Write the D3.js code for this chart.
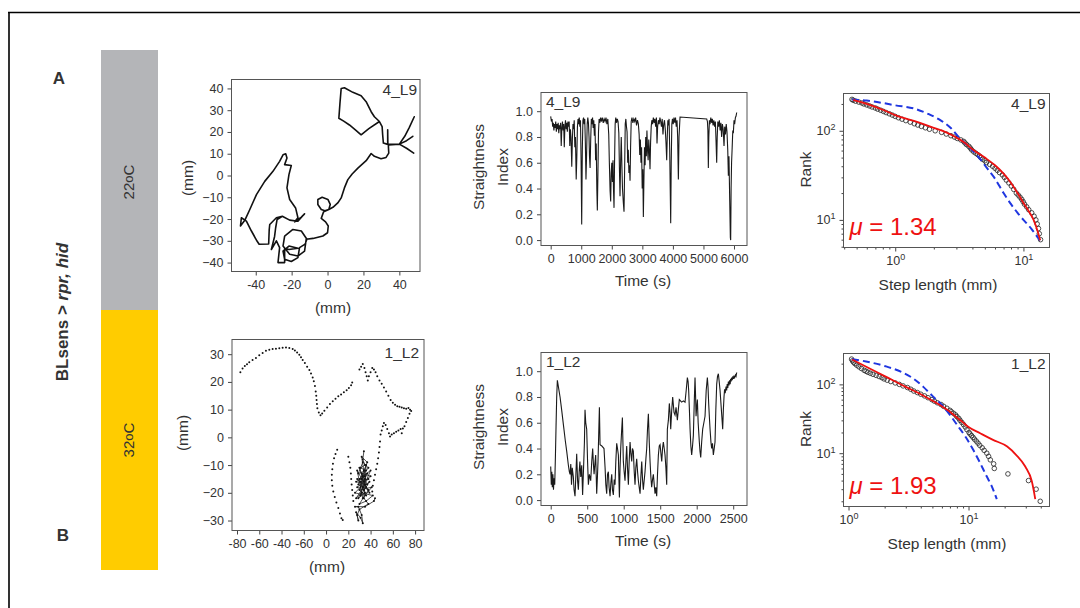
<!DOCTYPE html>
<html>
<head>
<meta charset="utf-8">
<script src="https://cdn.jsdelivr.net/npm/d3@7"></script>
<style>
body { margin: 0; background: #fff; }
text { font-family: "Liberation Sans", Arial, sans-serif; fill: #333; }
</style>
</head>
<body>
<div id="fig"></div>
<script>
// ---- data ----
const trajTicksA = [-40, -20, 0, 20, 40];
const trajYTicksA = [-40, -30, -20, -10, 0, 10, 20, 30, 40];
const trajTicksB = [-80, -60, -40, -20, 0, 20, 40, 60, 80];
const trajTickLabelsB = ["-80", "-60", "-40", "-60", "0", "20", "40", "60", "80"];
const trajYTicksB = [-30, -20, -10, 0, 10, 20, 30];

// 4_L9 trajectory (mm), continuous track
const trajA = [
  [28.9,24.8],[23,21.5],[18.7,18.7],[15.5,21],[12.2,23.2],[9,25],[6.3,26.3],[6.9,33],[7.6,40],[9.4,40.3],
  [14.1,38.2],[18.7,36.6],[21.5,33.9],[24.3,29.3],[26.1,27],[28.9,24.8],[30.4,22.5],[30.7,18.7],[31.1,14.9],
  [33.5,14.3],[33.5,21],[33.6,14.3],[40,14.4],[44,12.5],[48,10.3],[44,12.5],[40,14.4],[44,16],[47.5,18],
  [44,16],[40,14.4],[43,18],[45.5,22],[48.3,27],[45.5,22],[43,18],[40,14.4],[34,14],[33.9,13.3],[34.1,10.3],
  [32.6,8.3],[29.8,7.7],[26.1,8.8],[24.3,10.1],[21.5,6.8],[16.9,3.4],[13.7,0.7],[11.3,-1.9],[9.4,-5.7],
  [7.6,-10.3],[5.7,-12.6],[3,-14.6],[0.7,-15.6],[-1.5,-16.2],[-3.5,-15.6],[-5.4,-13.3],[-5.4,-11],[-3,-10],
  [0.2,-11],[1.5,-13.3],[0.7,-15.6],[-1.5,-16.4],[-2.2,-16.7],[-3.5,-19.7],[-1.1,-21.3],[0.4,-23.2],[0,-26.3],
  [-2.6,-27.8],[-8.1,-28.9],[-11.9,-29.3],[-12.8,-34.7],[-16.5,-37],[-21.1,-36.2],[-24.8,-32.4],[-23.9,-27.8],
  [-19.3,-24.8],[-14.6,-25.5],[-11.5,-29.3],[-12.5,-31.5],[-15.6,-33.1],[-16.5,-37.7],[-20.2,-39.5],
  [-23.9,-38.5],[-24.8,-34.7],[-21.5,-32.4],[-16.5,-33.4],[-21.5,-34],[-23.9,-33.5],[-23.9,-40],[-27.6,-40],
  [-26.7,-33.1],[-28.5,-30],[-31.3,-34],[-29.5,-28],[-28.9,-24],[-28.1,-20.2],[-25.2,-18.7],[-21.1,-20.5],
  [-16.5,-21],[-12.8,-17.6],[-14.6,-19.1],[-18.3,-21.3],[-16.5,-19.4],[-17.8,-14.9],[-21.1,-11],[-22.6,-5.7],
  [-21.5,0.4],[-20.2,4.6],[-23.9,5],[-22.6,8],[-23.3,10],[-24.8,9.5],[-26.7,6.5],[-30.4,1.9],[-35,-2.7],
  [-39.6,-8.8],[-43.3,-15.6],[-46.1,-20.6],[-48.5,-23.2],[-48,-19.4],[-45.2,-21],[-42.4,-25.5],[-39.3,-30.1],
  [-38.1,-31.6],[-32.8,-31.5],[-32.5,-25],[-32.2,-22.5],[-28.5,-19.4],[-25.2,-18.7]
];

// 1_L2 trajectory (mm), sampled dots
const trajB = [
  [-77,23.5],[-75,24.8],[-73,25.7],[-71,26.4],[-69,27.1],[-66,27.9],[-63,28.6],[-60,29.6],[-57,30.4],[-54,31.2],
  [-51,31.6],[-48,31.9],[-45,32],[-42,32.1],[-39,32.3],[-36,32.4],[-33,32.2],[-30,31.9],[-28,31.3],[-26,30.6],
  [-24,29.8],[-22.5,28.9],[-21,27.9],[-19,26.8],[-17,25.5],[-15,24.3],[-13.5,23],[-12,21.6],[-11,20.2],[-10,18.5],
  [-9.3,16.5],[-8.8,15],[-8.5,13.5],[-8.2,12],[-7.8,10.5],[-6.5,9],[-5,8],[-3.5,8.6],[-1.5,9.6],[1,10.8],
  [3.5,12],[6,13],[8.5,13.9],[11,14.8],[13.5,15.5],[16,16.3],[18.5,17],[20.5,17.8],[22.5,18.8],[23.5,19.8],
  [30,24.5],[31.5,25.5],[33,26.5],[34.5,25],[35.5,23.5],[36.5,22],[37.5,20.5],[38.5,22],[40,23.5],[41.5,25],
  [43,24.5],[44.5,23.5],[46,22],[48,20.5],[50,19.3],[52,18],[54,16.5],[56,15],[58,13.5],[60,12.5],[62,11.8],
  [64,11.2],[66,11],[68,10.8],[70,10.5],[72,10.3],[74,10.6],[75.5,10],[76.5,9.5],[75,8.5],[73.5,7],[72,5.5],
  [70.5,4],[69,3.2],[68,1.5],[67,3],[65,2.5],[63,2],[61,1.5],[59,1],[57.5,0.3],[56.5,1.5],[55,3],[53.5,4.5],
  [52,5.2],[51,4],[50,2.5],[49,1],[48.5,-1.5],[48,-3.5],[47.5,-5.5],[46.8,-7.5],[46,-9.5],[45,-11.5],[44,-13.5],
  [43,-15.5],[42,-17.5],[41.5,-19.5],
  [10,-4.5],[8.5,-6],[7.2,-7.5],[6.2,-9.5],[5.6,-11.5],[5.2,-13.5],[5.2,-15.5],[5.6,-17.5],[6.5,-19.5],
  [7.8,-21.5],[9.3,-23.5],[11,-25.5],[12.5,-27.5],[13.8,-29.2],[15,-29.8],
  [20,-7],[21,-9],[21.8,-11],[22.3,-13],[22.6,-15],[23,-17],[23.5,-19],[24,-21],[24.5,-23]
];
// dense scribble of 1_L2 near (33,-15)
const trajBCluster = [
  [34,-5],[33,-8],[35,-10],[31,-11],[36,-12],[29,-13],[33,-9],[38,-11],[30,-15],[35,-14],[27,-16],[37,-17],
  [32,-13],[40,-14],[28,-18],[34,-19],[31,-16],[38,-15],[26,-20],[36,-21],[30,-19],[41,-18],[33,-22],[28,-12],
  [39,-20],[35,-17],[27,-22],[32,-20],[42,-21],[36,-23],[30,-24],[38,-19],[29,-17],[34,-12],[37,-9],[32,-7],
  [35,-15],[31,-21],[39,-16],[33,-18],[28,-15],[36,-18],[30,-11],[34,-16],[37,-13],[32,-15],[35,-20],[29,-22],
  [40,-12],[33,-14],[31,-18],[36,-10],[34,-22],[38,-24],[30,-26],[28,-28],[29,-30],[27,-27],[31,-29],[33,-31],
  [32,-28],[29,-25],[26,-25],[35,-25],[43,-23],[44,-22]
];

// straightness index over time (s)
const timeTicksA = [0, 1000, 2000, 3000, 4000, 5000, 6000];
const timeTicksB = [0, 500, 1000, 1500, 2000, 2500];
const siTicks = [0, 0.2, 0.4, 0.6, 0.8, 1.0];
const siA = [
  [0,0.96],[25,0.92],[45,0.94],[65,0.88],[85,0.91],[105,0.85],[125,0.9],[145,0.87],[165,0.92],[185,0.84],
  [205,0.9],[225,0.86],[245,0.91],[265,0.83],[285,0.89],[305,0.86],[325,0.91],[345,0.73],[365,0.87],[385,0.92],
  [405,0.85],[425,0.9],[445,0.72],[465,0.88],[485,0.93],[505,0.86],[525,0.91],[545,0.84],[565,0.92],[585,0.88],
  [605,0.92],[625,0.73],[645,0.86],[665,0.8],[690,0.57],[710,0.78],[730,0.9],[750,0.86],[770,0.93],[790,0.72],
  [810,0.8],[835,0.47],[855,0.64],[875,0.88],[895,0.94],[915,0.9],[935,0.95],[955,0.88],[975,0.93],[995,0.62],
  [1015,0.12],[1035,0.7],[1055,0.93],[1075,0.95],[1095,0.9],[1115,0.94],[1135,0.75],[1155,0.47],[1175,0.66],
  [1195,0.9],[1215,0.95],[1235,0.91],[1255,0.8],[1270,0.65],[1290,0.56],[1310,0.78],[1330,0.94],[1350,0.9],
  [1370,0.95],[1390,0.87],[1410,0.93],[1430,0.81],[1450,0.9],[1470,0.62],[1490,0.75],[1510,0.4],[1527,0.23],
  [1545,0.5],[1565,0.84],[1585,0.94],[1610,0.91],[1635,0.95],[1660,0.92],[1690,0.95],[1720,0.91],[1750,0.94],
  [1780,0.92],[1810,0.95],[1840,0.9],[1870,0.94],[1900,0.82],[1920,0.6],[1945,0.38],[1964,0.3],[1980,0.52],
  [2000,0.6],[2020,0.45],[2040,0.62],[2055,0.4],[2073,0.25],[2090,0.6],[2110,0.9],[2130,0.95],[2155,0.91],
  [2180,0.94],[2205,0.92],[2230,0.83],[2250,0.55],[2269,0.34],[2290,0.62],[2310,0.8],[2330,0.58],[2350,0.4],
  [2375,0.3],[2400,0.22],[2420,0.55],[2440,0.9],[2460,0.94],[2480,0.88],[2500,0.84],[2520,0.6],[2540,0.7],
  [2560,0.52],[2580,0.58],[2597,0.46],[2615,0.72],[2635,0.92],[2660,0.95],[2690,0.91],[2720,0.94],[2750,0.92],
  [2780,0.95],[2810,0.89],[2840,0.93],[2870,0.9],[2895,0.82],[2915,0.66],[2935,0.78],[2955,0.6],[2975,0.72],
  [2995,0.4],[3015,0.55],[3033,0.18],[3050,0.45],[3070,0.72],[3090,0.58],[3110,0.8],[3130,0.65],[3150,0.85],
  [3170,0.7],[3190,0.62],[3210,0.78],[3230,0.7],[3251,0.55],[3270,0.76],[3290,0.88],[3310,0.93],[3335,0.9],
  [3360,0.95],[3385,0.91],[3410,0.94],[3435,0.88],[3460,0.95],[3480,0.75],[3500,0.88],[3525,0.93],[3550,0.9],
  [3575,0.95],[3600,0.92],[3625,0.88],[3650,0.94],[3675,0.82],[3700,0.9],[3725,0.93],[3750,0.86],[3775,0.75],
  [3797,0.62],[3815,0.8],[3835,0.93],[3855,0.89],[3875,0.94],[3895,0.7],[3912,0.4],[3928,0.13],[3945,0.6],
  [3965,0.9],[3985,0.94],[4010,0.9],[4035,0.95],[4060,0.91],[4085,0.95],[4110,0.88],[4135,0.93],[4155,0.8],
  [4179,0.47],[4200,0.8],[4233,0.955],[5106,0.94],[5130,0.92],[5145,0.85],[5160,0.56],[5175,0.8],[5195,0.93],
  [5215,0.9],[5240,0.95],[5265,0.91],[5290,0.94],[5315,0.89],[5340,0.93],[5365,0.88],[5390,0.92],[5410,0.78],
  [5433,0.6],[5450,0.8],[5470,0.92],[5495,0.88],[5520,0.93],[5545,0.85],[5570,0.91],[5595,0.8],[5620,0.9],
  [5645,0.86],[5673,0.73],[5695,0.88],[5720,0.82],[5745,0.9],[5770,0.84],[5795,0.7],[5815,0.5],[5835,0.65],
  [5860,0.3],[5880,0.02],[5891,0.0],[5905,0.4],[5920,0.6],[5940,0.72],[5960,0.85],[5978,0.83],[6000,0.93],
  [6020,0.9],[6045,0.95],[6065,0.96],[6088,0.99]
];
const siB = [
  [0,0.26],[8,0.12],[15,0.22],[22,0.1],[30,0.2],[38,0.08],[46,0.17],[55,0.12],[65,0.35],[73,0.57],[82,0.8],
  [91,0.93],[105,0.88],[128,0.8],[150,0.7],[175,0.58],[200,0.46],[219,0.38],[242,0.27],[255,0.22],[265,0.2],
  [275,0.28],[285,0.12],[295,0.25],[310,0.18],[320,0.08],[333,0.03],[345,0.2],[356,0.36],[368,0.15],[379,0.08],
  [390,0.22],[400,0.3],[412,0.18],[425,0.27],[437,0.04],[450,0.25],[462,0.45],[470,0.7],[480,0.6],[493,0.55],
  [505,0.3],[516,0.12],[530,0.2],[548,0.15],[562,0.3],[575,0.4],[585,0.28],[594,0.2],[605,0.28],[616,0.35],
  [630,0.05],[640,0.18],[648,0.3],[657,0.5],[667,0.72],[676,0.43],[700,0.42],[730,0.4],[745,0.25],[755,0.12],
  [767,0.05],[778,0.2],[790,0.22],[800,0.1],[813,0.03],[825,0.14],[836,0.2],[846,0.08],[858,0.04],[870,0.16],
  [881,0.12],[892,0.3],[904,0.44],[915,0.4],[927,0.35],[935,0.15],[941,0.02],[950,0.25],[959,0.4],[970,0.52],
  [982,0.64],[995,0.3],[1006,0.22],[1018,0.15],[1030,0.3],[1041,0.42],[1052,0.25],[1064,0.12],[1075,0.3],
  [1087,0.45],[1098,0.36],[1110,0.3],[1120,0.4],[1132,0.38],[1144,0.22],[1155,0.12],[1166,0.25],[1178,0.32],
  [1190,0.22],[1201,0.15],[1212,0.1],[1224,0.05],[1235,0.18],[1247,0.3],[1258,0.16],[1269,0.08],[1280,0.15],
  [1292,0.22],[1304,0.32],[1315,0.4],[1326,0.55],[1338,0.67],[1350,0.45],[1361,0.3],[1372,0.18],[1383,0.1],
  [1395,0.16],[1406,0.2],[1418,0.12],[1429,0.05],[1440,0.1],[1452,0.03],[1463,0.2],[1475,0.35],[1487,0.42],
  [1498,0.43],[1510,0.36],[1521,0.3],[1532,0.4],[1543,0.45],[1555,0.4],[1566,0.35],[1578,0.25],[1589,0.12],
  [1598,0.55],[1612,0.62],[1625,0.75],[1635,0.68],[1644,0.55],[1658,0.7],[1671,0.8],[1680,0.74],[1689,0.68],
  [1703,0.66],[1717,0.72],[1726,0.67],[1735,0.62],[1748,0.7],[1762,0.78],[1778,0.77],[1794,0.76],[1818,0.77],
  [1840,0.76],[1856,0.85],[1872,0.95],[1882,0.92],[1890,0.85],[1900,0.7],[1909,0.55],[1920,0.42],[1931,0.35],
  [1943,0.42],[1954,0.5],[1966,0.75],[1977,0.95],[1985,0.8],[1991,0.65],[2000,0.72],[2009,0.78],[2020,0.6],
  [2036,0.45],[2045,0.38],[2055,0.33],[2068,0.45],[2082,0.55],[2098,0.6],[2114,0.65],[2130,0.85],[2146,0.95],
  [2155,0.88],[2164,0.75],[2173,0.65],[2183,0.55],[2195,0.45],[2205,0.4],[2216,0.44],[2228,0.35],[2240,0.4],
  [2251,0.45],[2262,0.7],[2274,0.9],[2285,0.96],[2297,0.98],[2308,0.92],[2320,0.85],[2338,0.7],[2356,0.55],
  [2365,0.7],[2374,0.8],[2382,0.86],[2390,0.83],[2402,0.88],[2410,0.85],[2418,0.9],[2426,0.87],[2434,0.92],
  [2442,0.89],[2450,0.93],[2458,0.9],[2465,0.94],[2472,0.92],[2479,0.95],[2487,0.93],[2495,0.96],[2503,0.94],
  [2511,0.96],[2520,0.95],[2530,0.97],[2539,0.96],[2548,0.99]
];

// rank / step length (mm): observed points and fits
const rankA = [
  [0.46,225],[0.47,220],[0.49,215],[0.52,210],[0.55,205],[0.57,200],[0.6,195],[0.63,190],[0.66,185],[0.7,180],
  [0.73,175],[0.77,170],[0.81,165],[0.85,160],[0.9,155],[0.95,150],[1.0,145],[1.06,140],[1.13,135],[1.21,130],
  [1.31,125],[1.41,120],[1.5,116],[1.6,112],[1.72,108],[1.85,104],[2.05,100],[2.3,96],[2.5,92],[2.72,88],
  [2.9,85],[3.05,82],[3.25,79],[3.42,76],[3.5,73],[3.6,70],[3.75,67],[3.85,64],[3.95,61],[4.1,58],[4.25,56],
  [4.4,54],[4.55,52],[4.65,50],[4.8,48],[5.0,46],[5.15,44],[5.45,42],[5.75,40],[6.0,38],[6.25,36],[6.5,34],
  [6.85,32],[7.1,30],[7.35,28],[7.7,26],[8.05,24],[8.4,22],[8.8,20],[9.1,19],[9.4,18],[9.7,17],[9.95,16],
  [10.2,15],[10.6,14],[11.0,13],[11.6,12],[12.1,11],[12.5,10],[12.8,9],[13.1,8],[13.3,7],[13.6,6]
];
const fitRedA = [
  [0.47,222],[0.6,200],[0.8,172],[1.0,150],[1.5,125],[2.0,108],[2.5,96],[3.0,84],[3.5,73],[4.0,62],[5.0,50],
  [6.0,41],[7.0,33],[8.0,26],[9.0,20],[10.0,15.5],[11.0,12.5],[12.0,10],[13.0,7.2],[13.5,5.9]
];
const fitBlueA = [
  [0.46,224],[0.6,218],[0.8,205],[1.0,193],[1.4,178],[1.8,155],[2.2,134],[2.7,108],[3.2,82],[3.8,65],[4.5,50],
  [5.2,38],[6.0,29],[7.0,20],[8.0,15],[9.0,12],[10.0,10],[11.5,8],[13.0,6.3],[13.5,5.9]
];
const rankB = [
  [1.06,233],[1.08,220],[1.1,210],[1.13,200],[1.17,190],[1.22,180],[1.28,170],[1.35,160],[1.4,155],[1.45,150],
  [1.52,145],[1.6,140],[1.7,135],[1.8,130],[1.9,125],[1.98,120],[2.1,115],[2.25,110],[2.45,105],[2.65,100],
  [2.85,95],[3.1,90],[3.3,85],[3.5,80],[3.75,76],[4.0,72],[4.3,68],[4.6,64],[4.95,60],[5.2,57],[5.5,54],
  [5.9,51],[6.2,48],[6.6,45],[7.0,42],[7.2,40],[7.5,38],[7.8,36],[8.0,34],[8.3,32],[8.5,30],[8.8,28],[9.1,26],
  [9.4,24],[9.7,22],[10.1,20],[10.3,19],[10.6,18],[10.9,17],[11.2,16],[11.6,15],[12.0,14],[12.4,13],[13.0,12],
  [13.5,11],[14.2,10],[14.7,9],[15.2,8],[16.2,7],[16.4,6],[21.3,5],[31.6,4],[36.6,3],[39.6,2]
];
const fitRedB = [
  [1.07,230],[1.5,170],[2.0,132],[3.0,92],[4.0,72],[5.0,58],[6.0,48],[7.0,40],[8.0,33],[9.0,28],[10.0,24],
  [12.5,19.5],[16,15.6],[21,12.5],[25,9.4],[29.7,6.4],[33.7,3.9],[36,2.15]
];
const fitBlueB = [
  [1.07,233],[1.4,215],[2.0,185],[2.8,150],[3.5,120],[4.2,92],[5.0,68],[6.0,50],[7.0,36],[8.0,26],[9.5,17],
  [11,11],[12.5,7.2],[14,4.8],[15.5,3.4],[17.2,2.15]
];

// ---- drawing ----
const svg = d3.select("#fig").append("svg")
  .attr("width", 1080).attr("height", 608);

svg.append("rect").attr("width", 1080).attr("height", 608).attr("fill", "#fff");
svg.append("path").attr("d", "M8,12.5H1080M9,12V608")
  .attr("stroke", "#000").attr("stroke-width", 1.6).attr("fill", "none");

// left column: condition bars and labels
svg.append("rect").attr("x", 101).attr("y", 50).attr("width", 57).attr("height", 260).attr("fill", "#b4b5b8");
svg.append("rect").attr("x", 101).attr("y", 310).attr("width", 57).attr("height", 260).attr("fill", "#ffcc00");

function tempLabel(txt, cx, cy) {
  const t = svg.append("text")
    .attr("transform", `translate(${cx},${cy}) rotate(-90)`)
    .attr("text-anchor", "middle")
    .attr("font-size", "15px")
    .attr("fill", "#333");
  t.append("tspan").text(txt);
  t.append("tspan").attr("dy", "-0.1em").attr("font-size", "13px").text("o");
  t.append("tspan").attr("dy", "0.1em").text("C");
}
tempLabel("22", 134, 182);
tempLabel("32", 134, 440);

svg.append("text").attr("x", 59).attr("y", 84).attr("text-anchor", "middle")
  .attr("font-size", "17px").attr("font-weight", "bold").attr("fill", "#222").text("A");
svg.append("text").attr("x", 63).attr("y", 541).attr("text-anchor", "middle")
  .attr("font-size", "17px").attr("font-weight", "bold").attr("fill", "#222").text("B");

const geno = svg.append("text")
  .attr("transform", "translate(68,312) rotate(-90)")
  .attr("text-anchor", "middle")
  .attr("font-size", "17px").attr("font-weight", "bold").attr("fill", "#222");
geno.append("tspan").text("BLsens > ");
geno.append("tspan").attr("font-style", "italic").text("rpr, hid");

// helpers
function frame(x0, y0, x1, y1) {
  svg.append("rect").attr("x", x0).attr("y", y0)
    .attr("width", x1 - x0).attr("height", y1 - y0)
    .attr("fill", "none").attr("stroke", "#555").attr("stroke-width", 1);
}
function tidyAxis(g, size) {
  g.attr("font-family", '"Liberation Sans", Arial, sans-serif').attr("font-size", size || 12.5);
  g.select(".domain").remove();
  g.selectAll(".tick line").attr("stroke", "#444");
  g.selectAll(".tick text").attr("fill", "#333");
}
function powLabels(g) {
  g.selectAll(".tick text").each(function (d) {
    const t = d3.select(this).text("");
    t.append("tspan").text("10");
    t.append("tspan").attr("dy", "-0.55em").attr("font-size", "9px").text(Math.round(Math.log10(d)));
  });
}
function label(txt, x, y, opts) {
  const t = svg.append("text").attr("x", x).attr("y", y)
    .attr("font-size", (opts && opts.size) || "15.5px")
    .attr("text-anchor", (opts && opts.anchor) || "middle")
    .text(txt);
  if (opts && opts.rotate) t.attr("transform", `rotate(-90,${x},${y})`);
  if (opts && opts.fill) t.attr("fill", opts.fill);
  return t;
}

// ---- trajectory panels ----
function trajPanel(box, xDom, yDom, xTicks, xLabels, yTicks) {
  const x = d3.scaleLinear().domain(xDom).range([box.x0, box.x1]);
  const y = d3.scaleLinear().domain(yDom).range([box.y1, box.y0]);
  const ax = svg.append("g").attr("transform", `translate(0,${box.y1})`)
    .call(d3.axisBottom(x).tickValues(xTicks).tickSize(4).tickPadding(5)
      .tickFormat((d, i) => xLabels ? xLabels[i] : d));
  tidyAxis(ax);
  const ay = svg.append("g").attr("transform", `translate(${box.x0},0)`)
    .call(d3.axisLeft(y).tickValues(yTicks).tickSize(4).tickPadding(4));
  tidyAxis(ay);
  return { x, y };
}

const tA = trajPanel({ x0: 231.5, x1: 420, y0: 79.5, y1: 271.5 }, [-53.5, 51.5], [-44.1, 44.1],
  trajTicksA, null, trajYTicksA);
svg.append("path").datum(trajA)
  .attr("d", d3.line().x(d => tA.x(d[0])).y(d => tA.y(d[1])))
  .attr("fill", "none").attr("stroke", "#111").attr("stroke-width", 1.6).attr("stroke-linejoin", "round");
frame(231.5, 79.5, 420, 271.5);
label("4_L9", 417, 95, { anchor: "end" });
label("(mm)", 333, 313);
label("(mm)", 193, 178, { rotate: true });

const tB = trajPanel({ x0: 232, x1: 424, y0: 339.5, y1: 530.5 }, [-84.5, 88], [-33.6, 35.3],
  trajTicksB, trajTickLabelsB, trajYTicksB);
svg.append("path").datum(trajBCluster)
  .attr("d", d3.line().x(d => tB.x(d[0])).y(d => tB.y(d[1])))
  .attr("fill", "none").attr("stroke", "#222").attr("stroke-width", 0.8);
svg.append("g").selectAll("circle").data(trajB.concat(trajBCluster)).join("circle")
  .attr("cx", d => tB.x(d[0])).attr("cy", d => tB.y(d[1])).attr("r", 1).attr("fill", "#111");
frame(232, 339.5, 424, 530.5);
label("1_L2", 419, 358, { anchor: "end" });
label("(mm)", 327, 572);
label("(mm)", 188, 433, { rotate: true });

// ---- straightness panels ----
function siPanel(box, xDom, xTicks, data, tag) {
  const x = d3.scaleLinear().domain(xDom).range([box.x0, box.x1]);
  const y = d3.scaleLinear().domain([-0.042, 1.145]).range([box.y1, box.y0]);
  const ax = svg.append("g").attr("transform", `translate(0,${box.y1})`)
    .call(d3.axisBottom(x).tickValues(xTicks).tickSize(4).tickPadding(5).tickFormat(d3.format("d")));
  tidyAxis(ax);
  const ay = svg.append("g").attr("transform", `translate(${box.x0},0)`)
    .call(d3.axisLeft(y).tickValues(siTicks).tickSize(4).tickPadding(4).tickFormat(d3.format(".1f")));
  tidyAxis(ay);
  svg.append("path").datum(data)
    .attr("d", d3.line().x(d => x(d[0])).y(d => y(d[1])))
    .attr("fill", "none").attr("stroke", "#1a1a1a").attr("stroke-width", 1.1);
  frame(box.x0, box.y0, box.x1, box.y1);
  label(tag, box.x0 + 5, box.y0 + 14, { anchor: "start" });
  const cy = (box.y0 + box.y1) / 2 - 2;
  label("Straightness", 484, cy, { rotate: true });
  label("Index", 508, cy, { rotate: true });
  label("Time (s)", 643, box.y1 + 40);
}
siPanel({ x0: 541, x1: 747, y0: 92.5, y1: 245.5 }, [-317, 6425], timeTicksA, siA, "4_L9");
siPanel({ x0: 541, x1: 747, y0: 352.5, y1: 505.5 }, [-133, 2689], timeTicksB, siB, "1_L2");

// ---- rank / step length panels ----
function rankPanel(box, xDom, yDom, xMinor, yMinor, pts, red, blue, tag, mu, xLabelX) {
  const x = d3.scaleLog().domain(xDom).range([box.x0, box.x1]);
  const y = d3.scaleLog().domain(yDom).range([box.y1, box.y0]);
  const axm = svg.append("g").attr("transform", `translate(0,${box.y1})`)
    .call(d3.axisBottom(x).tickValues(xMinor).tickSize(2).tickFormat(""));
  tidyAxis(axm);
  const ax = svg.append("g").attr("transform", `translate(0,${box.y1})`)
    .call(d3.axisBottom(x).tickValues([1, 10]).tickSize(4).tickPadding(5));
  tidyAxis(ax, 12.5);
  powLabels(ax);
  const aym = svg.append("g").attr("transform", `translate(${box.x0},0)`)
    .call(d3.axisLeft(y).tickValues(yMinor).tickSize(2).tickFormat(""));
  tidyAxis(aym);
  const ay = svg.append("g").attr("transform", `translate(${box.x0},0)`)
    .call(d3.axisLeft(y).tickValues([10, 100]).tickSize(4).tickPadding(4));
  tidyAxis(ay, 12.5);
  powLabels(ay);

  svg.append("g").selectAll("circle").data(pts).join("circle")
    .attr("cx", d => x(d[0])).attr("cy", d => y(d[1])).attr("r", 2.3)
    .attr("fill", "none").attr("stroke", "#222").attr("stroke-width", 0.8);
  const line = d3.line().curve(d3.curveMonotoneX).x(d => x(d[0])).y(d => y(d[1]));
  svg.append("path").datum(blue).attr("d", line)
    .attr("fill", "none").attr("stroke", "#1f36e0").attr("stroke-width", 2).attr("stroke-dasharray", "7,4");
  svg.append("path").datum(red).attr("d", line)
    .attr("fill", "none").attr("stroke", "#ee1111").attr("stroke-width", 1.8);
  frame(box.x0, box.y0, box.x1, box.y1);
  label(tag, box.x1 - 4, box.y0 + 15, { anchor: "end" });
  const m = svg.append("text").attr("x", box.x0 + 6).attr("y", box.y1 - 13)
    .attr("font-family", "Lato, 'Open Sans', sans-serif").attr("font-size", "24px").attr("fill", "#ee1111");
  m.append("tspan").attr("font-style", "italic").attr("fill", "#ee1111").text("\u03bc");
  m.append("tspan").attr("fill", "#ee1111").text(" = " + mu);
  label("Rank", 811, (box.y0 + box.y1) / 2 - 1, { rotate: true });
  label("Step length (mm)", xLabelX, box.y1 + 42);
}
rankPanel({ x0: 843.5, x1: 1049.5, y0: 93.5, y1: 247.5 }, [0.395, 15.97], [4.9, 262],
  [0.4, 0.5, 0.6, 0.7, 0.8, 0.9, 2, 3, 4, 5, 6, 7, 8, 9],
  [5, 6, 7, 8, 9, 20, 30, 40, 50, 60, 70, 80, 90, 200],
  rankA, fitRedA, fitBlueA, "4_L9", "1.34", 938);
rankPanel({ x0: 843.5, x1: 1049.5, y0: 353.5, y1: 506.5 }, [0.908, 47.3], [1.68, 281],
  [2, 3, 4, 5, 6, 7, 8, 9, 20, 30, 40],
  [2, 3, 4, 5, 6, 7, 8, 9, 20, 30, 40, 50, 60, 70, 80, 90, 200],
  rankB, fitRedB, fitBlueB, "1_L2", "1.93", 947);
</script>
</body>
</html>
